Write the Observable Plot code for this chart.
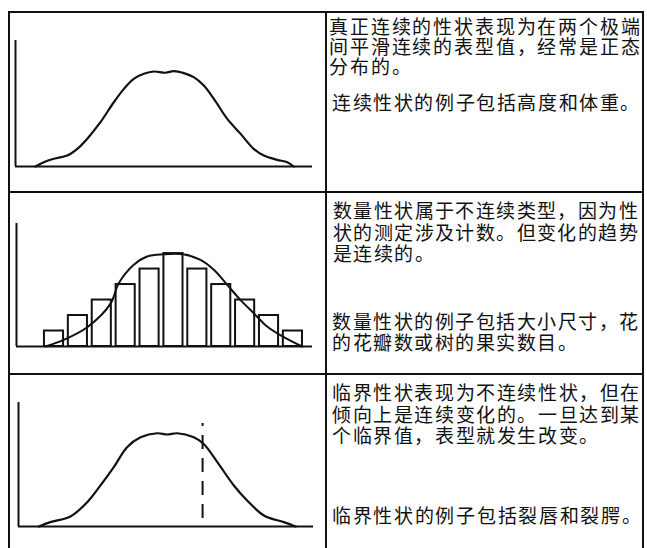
<!DOCTYPE html>
<html><head><meta charset="utf-8">
<script src="https://cdn.jsdelivr.net/npm/d3@7"></script>
<script src="https://cdn.jsdelivr.net/npm/@observablehq/plot@0.6"></script>
<style>
@font-face{font-family:"CJKTight";src:local("Noto Sans CJK SC"),local("Noto Sans CJK SC Regular"),local("NotoSansCJKsc-Regular");ascent-override:88%;descent-override:12%;line-gap-override:0%;}
html,body{margin:0;padding:0;background:#fff;}
#page{position:relative;width:647px;height:548px;overflow:hidden;background:#fff;}
.ln{position:absolute;background:#111;}
.txt{position:absolute;font-family:"CJKTight","Noto Sans CJK SC","Noto Sans CJK TC",sans-serif;font-size:19px;letter-spacing:1.8px;line-height:21px;color:#111;white-space:nowrap;}
.chart{position:absolute;left:0;}
.chart svg{background:transparent;overflow:visible;}
</style></head><body><div id="page"></div>
<script>
// ---- Row 1: truly continuous trait (phenotype value vs. frequency) ----
const contX = [6.7, 9.5, 12.9, 17.4, 20.8, 24.1, 28.6, 33.1, 36.5, 39.8, 43.2, 46.6, 50.5, 53.3, 56.7, 60.0, 63.4, 66.8, 71.3, 75.8, 80.2, 83.6, 88.1, 91.5, 93.7];
const contY = [0, 3.4, 6.1, 8.7, 14.0, 21.9, 35.2, 51.0, 61.6, 69.6, 73.6, 75.4, 74.4, 75.7, 74.1, 70.9, 64.3, 53.7, 37.8, 25.9, 14.0, 8.7, 5.3, 3.4, 0];

// ---- Row 2: meristic trait (counted classes) ----
const classes = [1, 2, 3, 4, 5, 6, 7, 8, 9, 10, 11];
const classCounts = [1, 2, 3, 4, 5, 6, 5, 4, 3, 2, 1];
const meristicX = [0.64, 1.41, 2.39, 3.36, 3.71, 4.34, 4.90, 5.59, 6.41, 7.13, 7.69, 8.25, 8.80, 9.36, 9.92, 10.62, 11.38];
const meristicY = [0, 0.43, 1.24, 2.75, 4.08, 5.27, 5.81, 5.95, 5.95, 5.59, 4.95, 3.98, 3.01, 2.15, 1.29, 0.60, 0];

// ---- Row 3: threshold trait ----
const threshX = [6.9, 10.8, 17.6, 23.3, 27.8, 32.3, 36.8, 41.4, 47.0, 50.4, 53.8, 59.4, 62.8, 67.4, 73.0, 77.5, 83.2, 89.9, 93.9];
const threshY = [0, 3.5, 8.1, 19.6, 33.1, 47.8, 64.0, 71.9, 75.2, 74.2, 75.2, 71.9, 66.5, 51.9, 33.1, 21.0, 8.9, 3.5, 0];
const thresholdValue = [62.4];
const thresholdSpan = [6.5, 83];

// ---- Texts ----
const text1a = ["真正连续的性状表现为在两个极端", "间平滑连续的表型值，经常是正态", "分布的。"];
const text1b = ["连续性状的例子包括高度和体重。"];
const text2a = ["数量性状属于不连续类型，因为性", "状的测定涉及计数。但变化的趋势", "是连续的。"];
const text2b = ["数量性状的例子包括大小尺寸，花", "的花瓣数或树的果实数目。"];
const text3a = ["临界性状表现为不连续性状，但在", "倾向上是连续变化的。一旦达到某", "个临界值，表型就发生改变。"];
const text3b = ["临界性状的例子包括裂唇和裂腭。"];

const page = document.getElementById("page");
const INK = "#111";

function line(l, t, w, h) {
  const d = document.createElement("div");
  d.className = "ln";
  Object.assign(d.style, {left: l + "px", top: t + "px", width: w + "px", height: h + "px"});
  page.appendChild(d);
}
// table grid
line(8, 11, 636, 2);    // top
line(8, 11, 2, 537);    // left
line(325, 11, 2, 537);  // middle
line(642, 11, 2, 537);  // right
line(8, 191, 636, 2);   // row divider 1
line(8, 373, 636, 2);   // row divider 2

function para(lines, left, top, ls, lh) {
  const d = document.createElement("div");
  d.className = "txt";
  d.style.left = left + "px";
  d.style.top = top + "px";
  d.style.letterSpacing = ls + "px";
  d.style.lineHeight = lh + "px";
  lines.forEach(t => {
    const s = document.createElement("div");
    s.textContent = t;
    d.appendChild(s);
  });
  page.appendChild(d);
}
para(text1a, 329, 17, 1.85, 20);
para(text1b, 332, 92, 1.6, 21);
para(text2a, 333, 200, 1.4, 21.5);
para(text2b, 332, 312, 1.5, 20.5);
para(text3a, 332, 382, 1.6, 21.5);
para(text3b, 332, 505, 1.7, 21);

function place(svg, top) {
  const d = document.createElement("div");
  d.className = "chart";
  d.style.top = top + "px";
  d.appendChild(svg);
  page.appendChild(d);
}

const cont = contX.map((x, i) => ({x, y: contY[i]}));
place(Plot.plot({
  width: 325, height: 180,
  marginLeft: 15, marginRight: 13, marginTop: 28, marginBottom: 26,
  x: {domain: [0, 100], axis: null},
  y: {domain: [0, 100], axis: null},
  marks: [
    Plot.ruleX([0], {stroke: INK, strokeWidth: 2}),
    Plot.ruleY([0], {stroke: INK, strokeWidth: 2}),
    Plot.line(cont, {x: "x", y: "y", curve: "catmull-rom", stroke: INK, strokeWidth: 2.2})
  ]
}), 12);

const bars = classes.map((c, i) => ({c, n: classCounts[i]}));
const mer = meristicX.map((x, i) => ({x, y: meristicY[i]}));
place(Plot.plot({
  width: 325, height: 182,
  marginLeft: 16, marginRight: 13, marginTop: 31, marginBottom: 28,
  x: {domain: [-0.57, 11.82], axis: null},
  y: {domain: [0, 7.94], axis: null},
  marks: [
    Plot.rect(bars, {x1: d => d.c - 0.4, x2: d => d.c + 0.4, y1: 0, y2: "n", fill: "none", stroke: INK, strokeWidth: 2}),
    Plot.ruleX([-0.57], {stroke: INK, strokeWidth: 2}),
    Plot.ruleY([0], {stroke: INK, strokeWidth: 2}),
    Plot.line(mer, {x: "x", y: "y", curve: "catmull-rom", stroke: INK, strokeWidth: 2})
  ]
}), 192);

const thr = threshX.map((x, i) => ({x, y: threshY[i]}));
place(Plot.plot({
  width: 325, height: 174,
  marginLeft: 18, marginRight: 12, marginTop: 28, marginBottom: 22,
  x: {domain: [0, 100], axis: null},
  y: {domain: [0, 100], axis: null},
  marks: [
    Plot.ruleX([0], {stroke: INK, strokeWidth: 2}),
    Plot.ruleY([0], {stroke: INK, strokeWidth: 2}),
    Plot.line(thr, {x: "x", y: "y", curve: "catmull-rom", stroke: INK, strokeWidth: 2.2}),
    Plot.ruleX(thresholdValue, {y1: thresholdSpan[0], y2: thresholdSpan[1], stroke: INK, strokeWidth: 2, strokeDasharray: "14,9"})
  ]
}), 374);
</script></body></html>
